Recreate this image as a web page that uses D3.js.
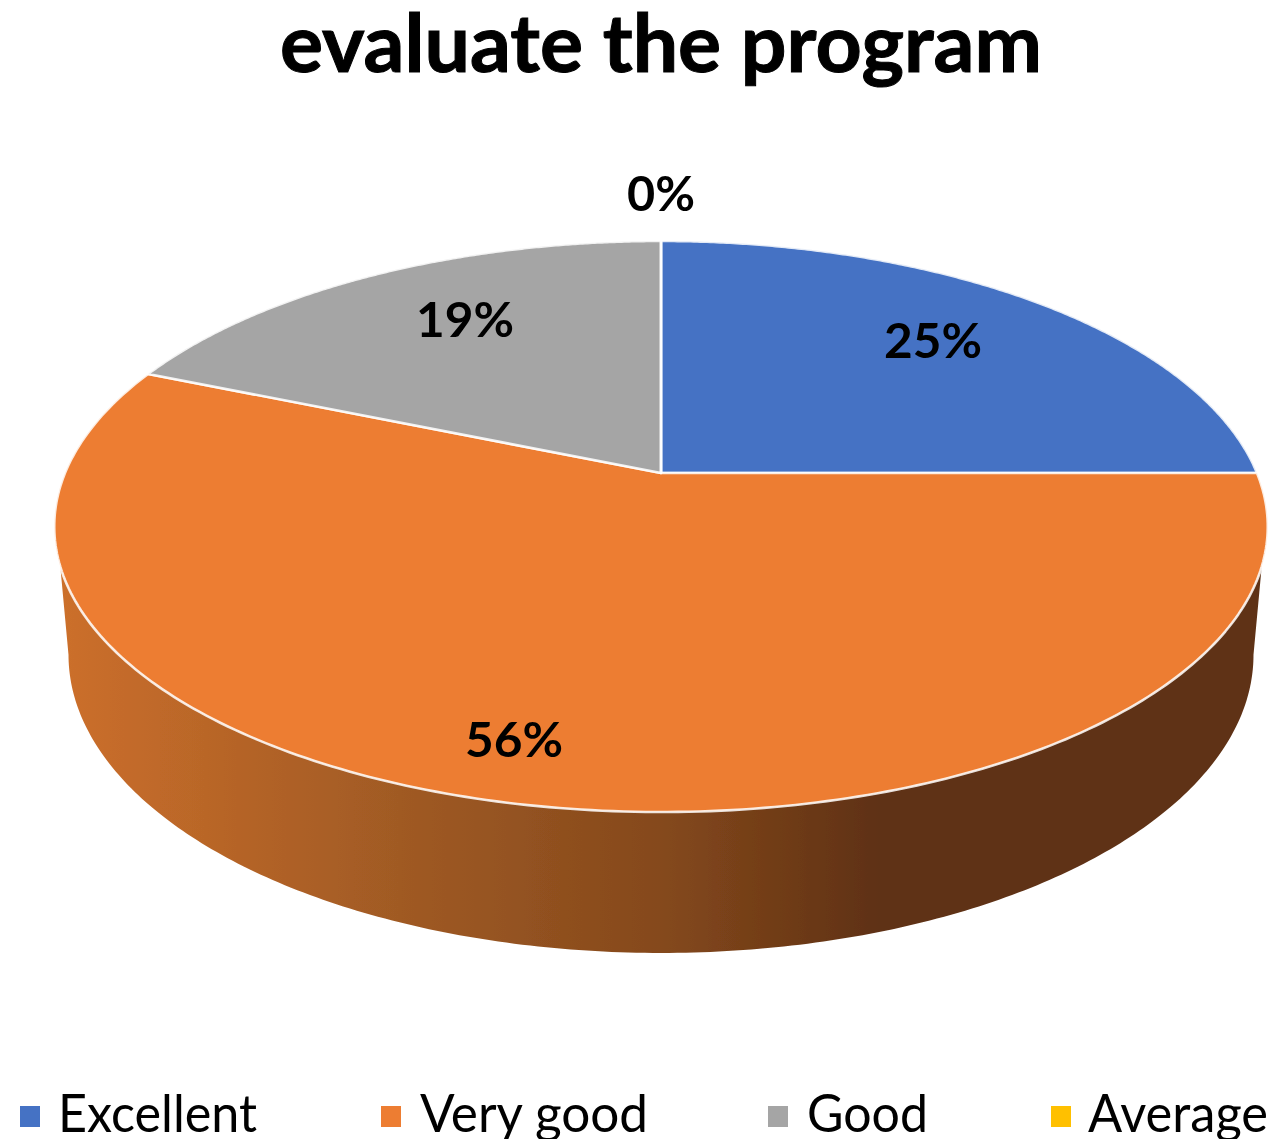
<!DOCTYPE html>
<html>
<head>
<meta charset="utf-8">
<script src="https://cdn.jsdelivr.net/npm/d3@7"></script>
<style>html,body{margin:0;padding:0;background:#fff;overflow:hidden}svg{display:block}text{font-family:Lato,"Noto Sans",sans-serif;fill:#000}</style>
</head>
<body>
<svg id="c" width="1275" height="1139"></svg>
<script>
const chartTitle = "evaluate the program";
const categories = ["Excellent", "Very good", "Good", "Average"];
const shareValues = [25, 56.3, 18.7, 0];
const sliceColors = ["#4472c4", "#ed7d31", "#a5a5a5", "#ffc000"];

// layout, kept apart from the data
const labelCentres = [[933, 358], [514, 757], [465, 337], [661, 211]];
const labelWidths = [98, 98, 98, 68];
const legendSwatchX = [20, 381, 768, 1051];
const legendTextX = [58, 420, 807, 1088];
const legendTextW = [199, 228, 121, 180];
const wallStops = [[60, "#cc6f2b"], [400, "#a05a24"], [660, "#85491c"], [880, "#5f3114"], [1265, "#5f3114"]];

const top3d = {cx: 661, cy: 473, rx: 596, ry: 275.5, k: -0.1874};
const low3d = {cx: 661, cy: 599, rx: 582, ry: 287.6, k: -0.1874};
const project = (rim, a) => {
  const u = -Math.cos(a), w = 1 + rim.k * u;
  return [rim.cx + rim.rx * Math.sin(a) / w, rim.cy + rim.ry * u / w];
};
const sweep = (a0, a1) => d3.range(0, 241).map(i => a0 + (a1 - a0) * i / 240);
const line = d3.line();

const svg = d3.select("#c");
const defs = svg.append("defs");
defs.append("filter").attr("id", "soft").attr("x", "-5%").attr("y", "-5%").attr("width", "110%").attr("height", "110%")
  .append("feGaussianBlur").attr("stdDeviation", 0.7);
const grad = defs.append("linearGradient").attr("id", "wall")
  .attr("gradientUnits", "userSpaceOnUse").attr("x1", 0).attr("x2", 1275).attr("y1", 0).attr("y2", 0);
grad.selectAll("stop").data(wallStops).join("stop")
  .attr("offset", d => d[0] / 1275).attr("stop-color", d => d[1]);

const g = svg.append("g").attr("filter", "url(#soft)");

// title
g.append("text").attr("x", 280).attr("y", 72).attr("font-size", 80).attr("font-weight", "bold")
  .attr("stroke", "#000").attr("stroke-width", 1)
  .attr("textLength", 762).attr("lengthAdjust", "spacingAndGlyphs").text(chartTitle);

// side wall of the pie
const lowExtreme = Math.acos(-0.187), topStart = Math.acos(-0.32);
const wallPts = sweep(lowExtreme, 2 * Math.PI - lowExtreme).map(a => project(low3d, a))
  .concat(sweep(2 * Math.PI - topStart, topStart).map(a => project(top3d, a)));
g.append("path").attr("d", line(wallPts) + "Z").attr("fill", "url(#wall)");

// top face
const arcs = d3.pie().sort(null)(shareValues);
g.selectAll("path.slice").data(arcs).join("path").attr("class", "slice")
  .attr("d", d => line([[top3d.cx, top3d.cy], ...sweep(d.startAngle, d.endAngle).map(a => project(top3d, a))]) + "Z")
  .attr("fill", (d, i) => sliceColors[i])
  .attr("stroke", "#fff").attr("stroke-width", 2.6).attr("stroke-opacity", 0.85).attr("stroke-linejoin", "round");

// data labels
g.selectAll("text.lab").data(shareValues).join("text").attr("class", "lab")
  .attr("x", (d, i) => labelCentres[i][0] - labelWidths[i] / 2)
  .attr("y", (d, i) => labelCentres[i][1])
  .attr("font-size", 48).attr("font-weight", "bold")
  .attr("textLength", (d, i) => labelWidths[i]).attr("lengthAdjust", "spacingAndGlyphs")
  .text(d => Math.round(d) + "%");

// legend
const leg = g.selectAll("g.leg").data(categories).join("g").attr("class", "leg");
leg.append("rect").attr("x", (d, i) => legendSwatchX[i]).attr("y", 1106).attr("width", 20).attr("height", 21)
  .attr("fill", (d, i) => sliceColors[i]);
leg.append("text").attr("x", (d, i) => legendTextX[i]).attr("y", 1132).attr("font-size", 52)
  .attr("textLength", (d, i) => legendTextW[i]).attr("lengthAdjust", "spacingAndGlyphs")
  .text(d => d);
</script>
</body>
</html>
